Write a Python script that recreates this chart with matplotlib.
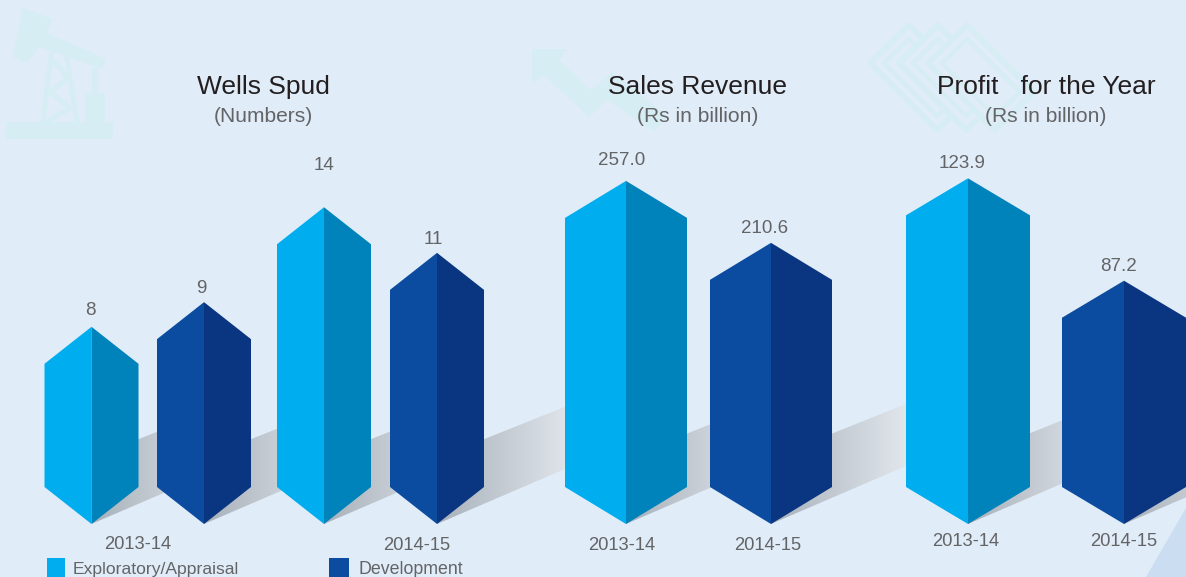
import numpy as np
import matplotlib
matplotlib.use("Agg")
import matplotlib.pyplot as plt
from matplotlib.colors import LinearSegmentedColormap
from matplotlib.patches import Polygon, Rectangle

plt.rcParams['font.family'] = ['Liberation Sans', 'DejaVu Sans']

# Values
wells_values = [8, 9, 14, 11]
wells_drawn = [8, 9, 12.85, 11]  # 14 bar is cut short in the original
sales_values = [257.0, 210.6]
profit_values = [123.9, 87.2]

wells_labels = ["8", "9", "14", "11"]
sales_labels = ["257.0", "210.6"]
profit_labels = ["123.9", "87.2"]

titles = ["Wells Spud", "Sales Revenue", "Profit   for the Year"]
subtitles = ["(Numbers)", "(Rs in billion)", "(Rs in billion)"]
legend_names = ["Exploratory/Appraisal", "Development"]
years = ["2013-14", "2014-15", "2013-14", "2014-15", "2013-14", "2014-15"]

# Layout, pixel units
W, H = 1186, 577
BASE = 524
NOTCH = 37
bg = '#e0ecf8'
icon = '#d6eef3'
title_c = '#231f20'
text_c = '#636466'
light = ('#00aeef', '#0083ba')
dark = ('#0b4ca0', '#0a3580')

wells_cx = [91.5, 204, 324, 437]
sales_cx = [626, 771]
profit_cx = [968, 1124]

fig = plt.figure(figsize=(W / 100, H / 100), dpi=100, facecolor=bg)

# background axes in pixels
bgax = fig.add_axes([0, 0, 1, 1])
bgax.axis('off')

# pumpjack icon
head = [(23, 8), (52, 19), (47, 33), (106, 59), (103, 69), (39, 47), (27, 63), (13, 57)]
bgax.add_patch(Polygon(head, color=icon, lw=0))
bgax.add_patch(Rectangle((6, 122), 107, 17, color=icon, lw=0))
bgax.add_patch(Rectangle((85, 93), 20, 30, color=icon, lw=0))
bgax.add_patch(Rectangle((92, 68), 6, 26, color=icon, lw=0))
for seg in [((52, 50), (43, 122)), ((67, 58), (77, 122)),
            ((55, 62), (68, 78)), ((68, 78), (50, 92)),
            ((50, 92), (70, 108)), ((70, 108), (46, 122))]:
    bgax.plot(*zip(*seg), color=icon, lw=3.5, solid_capstyle='round')

# arrow icon
arrow = [(532, 49), (567, 49), (559, 60), (591, 90), (612, 72), (668, 117),
         (654, 131), (607, 100), (589, 117), (544, 75), (532, 83)]
bgax.add_patch(Polygon(arrow, color=icon, lw=0))

# banknote icon
for dx in [0, 29, 58]:
    note = [(909 + dx, 25), (870 + dx, 63), (937 + dx, 130), (976 + dx, 92)]
    bgax.add_patch(Polygon(note, facecolor=bg, edgecolor=icon, lw=4, joinstyle='round'))
    inner = [(909 + dx, 39), (884 + dx, 63), (937 + dx, 116), (962 + dx, 92)]
    bgax.add_patch(Polygon(inner, facecolor='none', edgecolor=icon, lw=3))

# corner triangle
bgax.add_patch(Polygon([(1146, H), (W, 508), (W, H)], color='#cbddf1', lw=0))

shade = LinearSegmentedColormap.from_list('shade', ['#a8b1bb', '#e3e8ed'])
ramp = np.linspace(0, 1, 256).reshape(1, -1)


def shadow(cx, xe):
    top = BASE - 66
    pts = [(cx, BASE), (xe, BASE - 0.43 * (xe - cx)), (xe, top - 0.4 * (xe - cx)), (cx, top)]
    # gets lighter with distance from the tip
    im = bgax.imshow(ramp, cmap=shade, vmin=0, vmax=1, aspect='auto', zorder=1,
                     extent=(cx, cx + 140, BASE, 380))
    im.set_clip_path(Polygon(pts, transform=bgax.transData))


# shadows sit behind the next bar
for a, b in [(91.5, 204), (204, 324), (324, 437), (437, 626), (626, 771), (771, 968), (968, 1124), (1124, 1260)]:
    shadow(a, min(b, W))

bgax.set_xlim(0, W)
bgax.set_ylim(H, 0)


def panel(values, drawn, labels, centers, width, scale, nudges):
    ax = fig.add_axes([0, (H - BASE) / H, 1, BASE / H])
    ax.set_xlim(0, W)
    ax.set_ylim(0, BASE / scale)
    ax.axis('off')
    notch = NOTCH / scale
    for i, (v, d) in enumerate(zip(values, drawn)):
        cx = centers[i]
        left, right = light if i % 2 == 0 else dark
        ax.fill([cx - width / 2, cx, cx, cx - width / 2],
                [notch, 0, d, d - notch], color=left, lw=0)
        ax.fill([cx, cx + width / 2, cx + width / 2, cx],
                [0, notch, d - notch, d], color=right, lw=0)
        ax.annotate(labels[i], xy=(cx, v), xytext=nudges[i], textcoords='offset points',
                    ha='center', va='center', fontsize=13.5, color=text_c)
    return ax


panel(wells_values, wells_drawn, wells_labels, wells_cx, 94, 24.65,
      [(-1, 11.5), (-2, 9.5), (0, 9.5), (-3, 9.5)])
panel(sales_values, sales_values, sales_labels, sales_cx, 122, 1.335,
      [(-3, 14.5), (-4.5, 10.5)])
panel(profit_values, profit_values, profit_labels, profit_cx, 124, 2.79,
      [(-4, 11), (-4, 10.5)])

# text on top
top = fig.add_axes([0, 0, 1, 1])
top.set_xlim(0, W)
top.set_ylim(H, 0)
top.axis('off')

title_x = [263, 698, 1046]
for x, t, s in zip(title_x, titles, subtitles):
    top.text(x, 87, t, ha='center', va='center', fontsize=19, color=title_c)
    top.text(x, 116, s, ha='center', va='center', fontsize=15.1, color=text_c)

year_x = [138, 417, 622, 768, 966, 1124]
year_y = [544.5, 545, 545, 545, 541, 541]
for x, y, t in zip(year_x, year_y, years):
    top.text(x, y, t, ha='center', va='center', fontsize=13.2, color=text_c)

top.add_patch(Rectangle((47, 558), 18, 19, color=light[0], lw=0))
top.add_patch(Rectangle((329, 558), 20, 19, color=dark[0], lw=0))
top.text(73, 574, legend_names[0], ha='left', va='baseline', fontsize=12.6, color=text_c)
top.text(359, 574, legend_names[1], ha='left', va='baseline', fontsize=12.8, color=text_c)

fig.savefig('out.png', dpi=100, facecolor=bg)
